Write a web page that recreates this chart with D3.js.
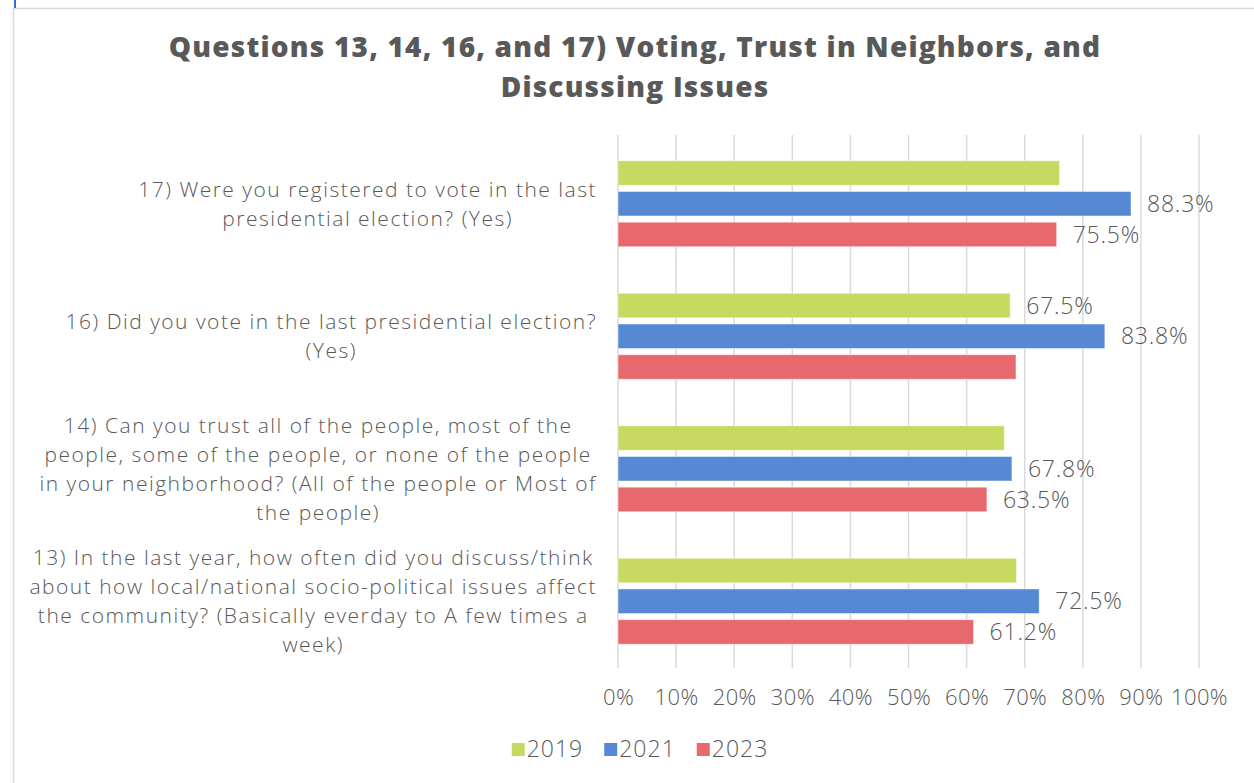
<!DOCTYPE html>
<html>
<head>
<meta charset="utf-8">
<script src="https://cdn.jsdelivr.net/npm/d3@7"></script>
<style>
  html, body { margin: 0; padding: 0; background: #fff; }
  svg { display: block; }
  text { font-family: "Open Sans", Lato, sans-serif; fill: #595959; font-weight: 300; }
</style>
</head>
<body>
<svg id="chart" width="1254" height="783"></svg>
<script>
// Survey questions, top to bottom, each split into its wrapped lines
const questions = ["Q17", "Q16", "Q14", "Q13"];
const questionLines = [
  ["17) Were you registered to vote in the last", "presidential election? (Yes)"],
  ["16) Did you vote in the last presidential election?", "(Yes)"],
  ["14) Can you trust all of the people, most of the", "people, some of the people, or none of the people", "in your neighborhood? (All of the people or Most of", "the people)"],
  ["13) In the last year, how often did you discuss/think", "about how local/national socio-political issues affect", "the community? (Basically everday to A few times a", "week)"]
];

const years = ["2019", "2021", "2023"];
const colors = ["#c8d962", "#5589d3", "#e7696e"];

// Share answering yes / the positive option, per question (order as questions)
const values2019 = [0.760, 0.675, 0.665, 0.686];
const values2021 = [0.883, 0.838, 0.678, 0.725];
const values2023 = [0.755, 0.685, 0.635, 0.612];

// Which bars carry a data label
const labeled2019 = [false, true, false, false];
const labeled2021 = [true, true, true, true];
const labeled2023 = [true, false, true, true];

const xTicks = [0, 0.1, 0.2, 0.3, 0.4, 0.5, 0.6, 0.7, 0.8, 0.9, 1.0];

const series = [
  { year: years[0], color: colors[0], values: values2019, labeled: labeled2019 },
  { year: years[1], color: colors[1], values: values2021, labeled: labeled2021 },
  { year: years[2], color: colors[2], values: values2023, labeled: labeled2023 }
];

const svg = d3.select("#chart");

// Chart frame
svg.append("rect")
  .attr("x", 13.5).attr("y", 8.5)
  .attr("width", 1300).attr("height", 800)
  .attr("fill", "none").attr("stroke", "#d9d9d9").attr("stroke-width", 1.5);
svg.append("line")
  .attr("x1", 15).attr("x2", 15).attr("y1", 0).attr("y2", 8)
  .attr("stroke", "#2f6fe0").attr("stroke-width", 2);

// Title
const title = svg.append("text")
  .attr("text-anchor", "middle")
  .style("font-size", "28px").style("font-weight", 800)
  .style("letter-spacing", "1.2px");
title.append("tspan").attr("x", 635).attr("y", 57)
  .text("Questions 13, 14, 16, and 17) Voting, Trust in Neighbors, and");
title.append("tspan").attr("x", 635).attr("y", 97)
  .text("Discussing Issues");

// Scales
const plotTop = 137.5, plotBottom = 667.5;
const x = d3.scaleLinear().domain([0, 1]).range([618, 1199]);
const y0 = d3.scaleBand().domain(questions).range([plotTop, plotBottom]);
const y1 = d3.scaleBand().domain(years)
  .range([(y0.bandwidth() - 86) / 2, (y0.bandwidth() + 86) / 2])
  .paddingInner(0.2);

// Vertical gridlines
svg.append("g")
  .selectAll("line")
  .data(xTicks)
  .join("line")
  .attr("x1", d => x(d)).attr("x2", d => x(d))
  .attr("y1", 135).attr("y2", 668)
  .attr("stroke", "#d9d9d9").attr("stroke-width", 1.5);

// X axis tick labels
const xAxis = d3.axisBottom(x).tickValues(xTicks)
  .tickFormat(d3.format(".0%")).tickSize(0).tickPadding(0);
const xg = svg.append("g").attr("transform", "translate(0,697)").call(xAxis);
xg.select(".domain").remove();
xg.selectAll("text")
  .attr("dy", "0.35em")
  .style("font-size", "22px").style("font-family", "'Open Sans', sans-serif")
  .style("font-weight", 300).style("letter-spacing", "0.4px")
  .attr("fill", "#595959");

// Bars
const groups = svg.append("g")
  .selectAll("g")
  .data(series)
  .join("g")
  .attr("fill", d => d.color);

groups.selectAll("rect")
  .data(s => s.values.map((v, i) => ({ q: questions[i], v, year: s.year })))
  .join("rect")
  .attr("x", x(0))
  .attr("y", d => y0(d.q) + y1(d.year))
  .attr("width", d => x(d.v) - x(0))
  .attr("height", y1.bandwidth())
  .attr("stroke", "#ffffff").attr("stroke-opacity", 0.5).attr("stroke-width", 1);

// Data labels
const fmt = d3.format(".1%");
svg.append("g")
  .selectAll("g")
  .data(series)
  .join("g")
  .selectAll("text")
  .data(s => s.values.map((v, i) => ({ q: questions[i], v, year: s.year, show: s.labeled[i] }))
    .filter(d => d.show))
  .join("text")
  .attr("x", d => x(d.v) + 16)
  .attr("y", d => y0(d.q) + y1(d.year) + y1.bandwidth() / 2)
  .attr("dy", "0.35em")
  .style("font-size", "23px").style("letter-spacing", "0.8px")
  .text(d => fmt(d.v));

// Category labels: each wrapped block centred on itself, right edge at the axis
const lineH = 29;
questions.forEach((q, i) => {
  const lines = questionLines[i];
  const g = svg.append("g");
  const t = g.append("text").attr("text-anchor", "middle")
    .style("font-size", "21px").style("letter-spacing", "1.5px");
  const cy = y0(q) + y0.bandwidth() / 2;
  const firstY = cy - (lines.length - 1) * lineH / 2;
  lines.forEach((ln, j) => {
    t.append("tspan").attr("x", 0).attr("y", firstY + j * lineH).attr("dy", "0.35em").text(ln);
  });
  const w = t.node().getBBox().width;
  t.attr("transform", `translate(${597 - w / 2},0)`);
});

// Legend
const legend = svg.append("g");
let lx = 0;
years.forEach((yr, i) => {
  const item = legend.append("g").attr("transform", `translate(${lx},0)`);
  item.append("rect").attr("x", 0).attr("y", -6).attr("width", 13).attr("height", 13).attr("fill", colors[i]);
  const t = item.append("text").attr("x", 15).attr("dy", "0.35em")
    .style("font-size", "23px").style("letter-spacing", "1px").text(yr);
  lx += 15 + t.node().getComputedTextLength() + 21;
});
const lw = lx - 21;
legend.attr("transform", `translate(${640 - lw / 2},749)`);
</script>
</body>
</html>
